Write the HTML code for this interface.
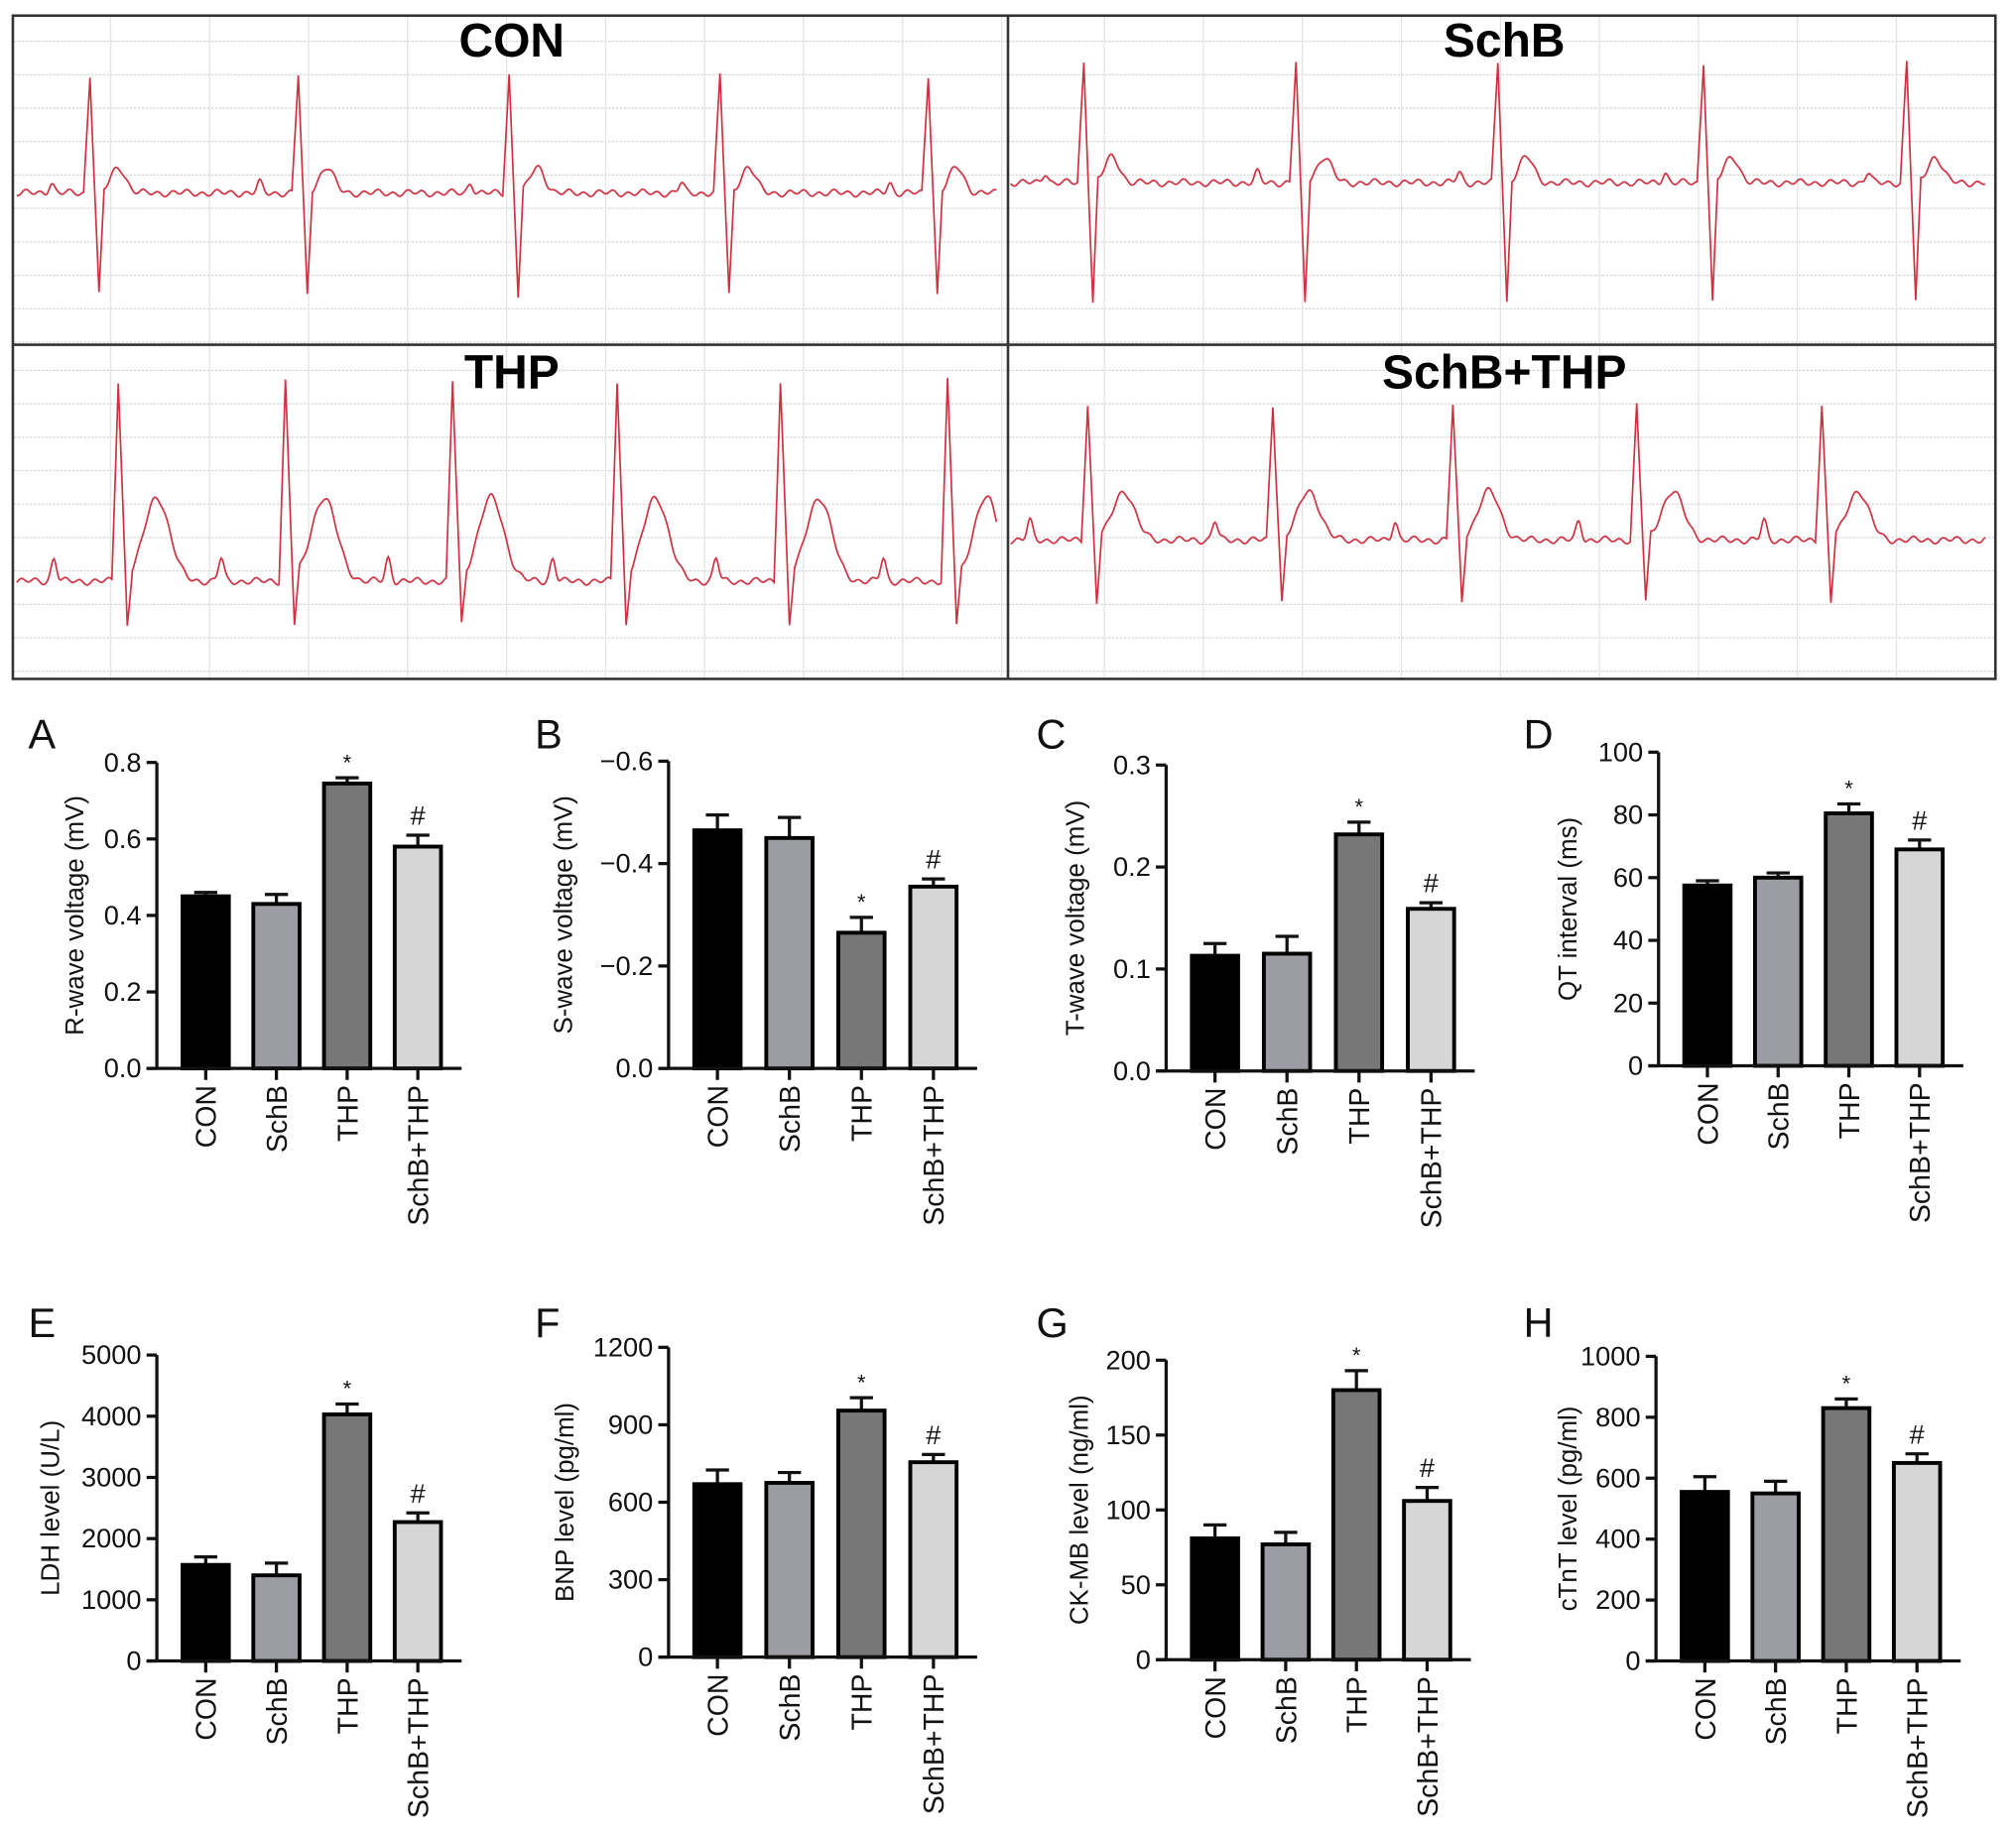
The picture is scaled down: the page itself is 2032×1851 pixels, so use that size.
<!DOCTYPE html>
<html><head><meta charset="utf-8"><style>
html,body{margin:0;padding:0;background:#fff;}
svg{display:block;font-family:"Liberation Sans",Arial,sans-serif;}
</style></head><body>
<svg id="fig" width="2032" height="1851" viewBox="0 0 1568 1428">
<g id="ecg"></g>
<g id="charts"></g>
</svg>
<script>
const NS="http://www.w3.org/2000/svg";
function mk(tag,attrs,parent){const e=document.createElementNS(NS,tag);for(const k in attrs)e.setAttribute(k,attrs[k]);parent.appendChild(e);return e;}

// ---------- ECG traces ----------
const ecgG=document.getElementById('ecg');
const ecgPanels=[
 {name:'CON',x0:11,x1:783,y0:12,y1:268,tx:398,ty:44,base:150,R:92,S:80,T:20,Tdx:22,Tw:8,P:8,Pdx:-30,beats:[70,232,396,560,722]},
 {name:'SchB',x0:784,x1:1552,y0:12,y1:268,tx:1170,ty:44,base:142,R:94,S:94,T:20,Tdx:22,Tw:8,P:8,Pdx:-30,beats:[843,1008,1165,1325,1483]},
 {name:'THP',x0:11,x1:783,y0:268,y1:528,tx:398,ty:302,base:452,R:155,S:38,T:65,Tdx:30,Tw:14,P:18,Pdx:-50,beats:[92,222,352,480,607,737]},
 {name:'SchB+THP',x0:784,x1:1552,y0:268,y1:528,tx:1170,ty:302,base:420,R:105,S:50,T:38,Tdx:28,Tw:12,P:15,Pdx:-45,beats:[846,990,1130,1273,1417]}
];
ecgPanels.forEach((p,pi)=>{
 const g=mk('g',{},ecgG);
 
 
 for(let y=p.y0+20;y<p.y1;y+=26){mk('line',{x1:p.x0,x2:p.x1,y1:y,y2:y,stroke:'#d8d8d8','stroke-width':1,'stroke-dasharray':'2,1'},g);}
 for(let x=p.x0+75;x<p.x1;x+=77){mk('line',{x1:x,x2:x,y1:p.y0,y2:p.y1,stroke:'#e4e4e4','stroke-width':1},g);}
 let d='';
 for(let x=p.x0+2;x<=p.x1-8;x+=1){
  let y=p.base+1.8*Math.sin(x*0.55+pi)+1.2*Math.sin(x*0.21);
  p.beats.forEach(r=>{
   const dx=x-r;
   if(dx>=-5&&dx<0)y-= p.R*(dx+5)/5;
   else if(dx>=0&&dx<7)y+= -p.R+(p.R+p.S)*dx/7;
   else if(dx>=7&&dx<11)y+= p.S*(11-dx)/4;
   y-=p.T*Math.exp(-Math.pow((dx-p.Tdx)/p.Tw,2));
   y-=p.P*Math.exp(-Math.pow((dx-p.Pdx)/3,2));
  });
  d+=(d?'L':'M')+x+','+y.toFixed(1);
 }
 const tr=mk('path',{d:d,fill:'none',stroke:'#d03040','stroke-width':1.3},g);
 
 
 const t=mk('text',{x:p.tx,y:p.ty,'text-anchor':'middle','font-size':37,'font-weight':'bold',fill:'#000'},g);
 t.textContent=p.name;
 
 
});
const fr=mk('g',{},ecgG);


mk('rect',{x:10,y:12,width:1542,height:516,fill:'none',stroke:'#333','stroke-width':2},fr);
mk('line',{x1:784,x2:784,y1:12,y2:528,stroke:'#333','stroke-width':2},fr);
mk('line',{x1:10,x2:1552,y1:268,y2:268,stroke:'#333','stroke-width':2},fr);

// ---------- Bar chart data ----------
const categories=['CON','SchB','THP','SchB+THP'];
const barColors=['#000000','#9c9ca4','#777777','#d6d6d6'];
const valsA=[0.45,0.43,0.745,0.58];      const errA=[0.01,0.025,0.015,0.03];
const valsB=[-0.465,-0.45,-0.265,-0.355]; const errB=[0.03,0.04,0.03,0.015];
const valsC=[0.113,0.115,0.232,0.159];    const errC=[0.012,0.017,0.012,0.006];
const valsD=[57.5,60,80.5,69];            const errD=[1.5,1.5,3,3];
const valsE=[1570,1400,4030,2270];        const errE=[130,200,170,150];
const valsF=[670,675,955,755];            const errF=[55,40,50,30];
const valsG=[81,77,180,106];              const errG=[9,8,13,9];
const valsH=[555,550,830,650];            const errH=[50,40,30,30];
const ticksA=[0,0.2,0.4,0.6,0.8];  const tickLabelsA=['0.0','0.2','0.4','0.6','0.8'];
const ticksB=[0,-0.2,-0.4,-0.6];   const tickLabelsB=['0.0','\u22120.2','\u22120.4','\u22120.6'];
const ticksC=[0,0.1,0.2,0.3];      const tickLabelsC=['0.0','0.1','0.2','0.3'];
const ticksD=[0,20,40,60,80,100];  const tickLabelsD=['0','20','40','60','80','100'];
const ticksE=[0,1000,2000,3000,4000,5000]; const tickLabelsE=['0','1000','2000','3000','4000','5000'];
const ticksF=[0,300,600,900,1200]; const tickLabelsF=['0','300','600','900','1200'];
const ticksG=[0,50,100,150,200];   const tickLabelsG=['0','50','100','150','200'];
const ticksH=[0,200,400,600,800,1000]; const tickLabelsH=['0','200','400','600','800','1000'];
const marksList=['','','*','#'];

const charts=[
 {id:'a',letter:'A',ax:122,yb:831,yt:593,max:0.8,vals:valsA,err:errA,ticks:ticksA,tl:tickLabelsA,title:'R-wave voltage (mV)',lx:22,ly:582,tx:65,pitch:55},
 {id:'b',letter:'B',ax:520,yb:831,yt:592,max:0.6,neg:true,vals:valsB,err:errB,ticks:ticksB,tl:tickLabelsB,title:'S-wave voltage (mV)',lx:416,ly:582,tx:445,pitch:56},
 {id:'c',letter:'C',ax:907,yb:833,yt:595,max:0.3,vals:valsC,err:errC,ticks:ticksC,tl:tickLabelsC,title:'T-wave voltage (mV)',lx:806,ly:582,tx:843,pitch:56},
 {id:'d',letter:'D',ax:1290,yb:829,yt:585,max:100,vals:valsD,err:errD,ticks:ticksD,tl:tickLabelsD,title:'QT interval (ms)',lx:1185,ly:582,tx:1226,pitch:55},
 {id:'e',letter:'E',ax:122,yb:1292,yt:1054,max:5000,vals:valsE,err:errE,ticks:ticksE,tl:tickLabelsE,title:'LDH level (U/L)',lx:22,ly:1040,tx:46,pitch:55},
 {id:'f',letter:'F',ax:520,yb:1289,yt:1048,max:1200,vals:valsF,err:errF,ticks:ticksF,tl:tickLabelsF,title:'BNP level (pg/ml)',lx:416,ly:1040,tx:446,pitch:56},
 {id:'g',letter:'G',ax:907,yb:1291,yt:1058,max:200,vals:valsG,err:errG,ticks:ticksG,tl:tickLabelsG,title:'CK-MB level (ng/ml)',lx:806,ly:1040,tx:846,pitch:55},
 {id:'h',letter:'H',ax:1288,yb:1292,yt:1055,max:1000,vals:valsH,err:errH,ticks:ticksH,tl:tickLabelsH,title:'cTnT level (pg/ml)',lx:1185,ly:1040,tx:1226,pitch:55}
];
const cg=document.getElementById('charts');
charts.forEach(c=>{
 const g=mk('g',{},cg);
 
 
 const ys=v=>{const a=c.neg?-v:v;return c.yb-(a/c.max)*(c.yb-c.yt);};
 const xs=i=>c.ax+20+i*c.pitch;
 const bw=36;
 const L=mk('text',{x:c.lx,y:c.ly,'font-size':32,fill:'#111'},g);L.textContent=c.letter;
 
 
 c.vals.forEach((v,i)=>{
  const top=ys(v), et=ys(c.neg?v-c.err[i]:v+c.err[i]);
  const xm=xs(i)+bw/2;
  const eb=mk('path',{d:`M${xm},${top}V${et}M${xm-9},${et}H${xm+9}`,stroke:'#111','stroke-width':2.5,fill:'none'},g);
  
  
  const r=mk('rect',{x:xs(i),y:top,width:bw,height:c.yb-top,fill:barColors[i],stroke:'#000','stroke-width':3},g);
  
  
  if(marksList[i]){
   const m=mk('text',{x:xm,y:et-(marksList[i]==='*'?6:8),'text-anchor':'middle','font-size':marksList[i]==='*'?17:21,fill:'#111'},g);
   m.textContent=marksList[i];
   
   
  }
  const lx=xm+8, ly=c.yb+13;
  const t=mk('text',{x:lx,y:ly,transform:`rotate(-90 ${lx} ${ly})`,'text-anchor':'end','font-size':22,fill:'#111'},g);
  t.textContent=categories[i];
  
  
  mk('line',{x1:xm,x2:xm,y1:c.yb,y2:c.yb+9,stroke:'#111','stroke-width':2.5},g);
 });
 const ya=mk('line',{x1:c.ax,x2:c.ax,y1:c.yt,y2:c.yb,stroke:'#111','stroke-width':2.5},g);
 
 
 const xa=mk('line',{x1:c.ax-8,x2:c.ax+20+3*c.pitch+52,y1:c.yb,y2:c.yb,stroke:'#111','stroke-width':2.5},g);
 
 
 c.ticks.forEach((tv,k)=>{
  const y=ys(tv);
  mk('line',{x1:c.ax-8,x2:c.ax,y1:y,y2:y,stroke:'#111','stroke-width':2.5},g);
  const t=mk('text',{x:c.ax-12,y:y+7,'text-anchor':'end','font-size':21,fill:'#111'},g);
  t.textContent=c.tl[k];
  
  
 });
 const ym=(c.yt+c.yb)/2;
 const tt=mk('text',{x:c.tx,y:ym,transform:`rotate(-90 ${c.tx} ${ym})`,'text-anchor':'middle','font-size':20,fill:'#111'},g);
 tt.textContent=c.title;
 
 
});
</script>
</body></html>
